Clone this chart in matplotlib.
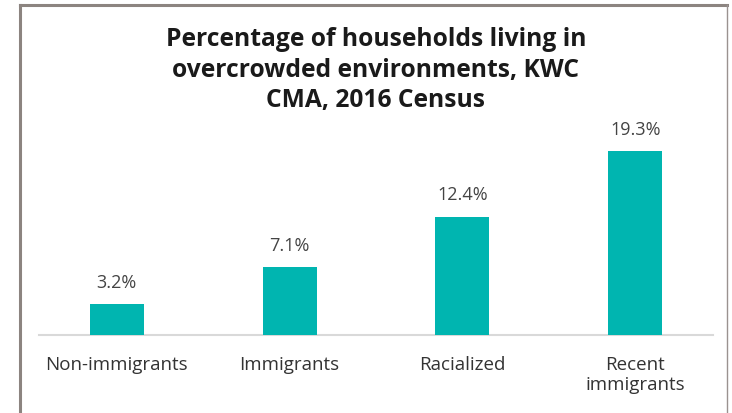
import matplotlib
matplotlib.use("Agg")
import matplotlib.pyplot as plt
from matplotlib.lines import Line2D

categories = ["Non-immigrants", "Immigrants", "Racialized", "Recent\nimmigrants"]
values = [3.2, 7.1, 12.4, 19.3]
value_labels = ["3.2%", "7.1%", "12.4%", "19.3%"]
title = "Percentage of households living in\novercrowded environments, KWC\nCMA, 2016 Census"

plt.rcParams['font.family'] = ['Open Sans', 'DejaVu Sans']

W, H = 732, 414
fig = plt.figure(figsize=(W / 100, H / 100), dpi=100)
fig.patch.set_facecolor('white')

left, right = 39, 713
base = 335.6
ymax = 22
scale = 9.51
top = base - ymax * scale
ax = fig.add_axes([left / W, (H - base) / H, (right - left) / W, (base - top) / H])

x = list(range(len(categories)))
ax.bar(x, values, width=0.3125, color='#00b5b0', zorder=3)
for xi, v, lab in zip(x, values, value_labels):
    ax.text(xi, v + 1.4, lab, ha='center', va='bottom', fontsize=13, color='#444444')

ax.set_xlim(-0.45, 3.45)
ax.set_ylim(0, ymax)
ax.set_xticks(x)
ax.set_xticklabels(categories, fontsize=13.5, color='#333333', linespacing=1.12)
ax.tick_params(axis='x', length=0, pad=15)
ax.set_yticks([])
for s in ['top', 'right', 'left']:
    ax.spines[s].set_visible(False)
ax.spines['bottom'].set_color('#d9d9d9')
ax.spines['bottom'].set_linewidth(1.5)
ax.patch.set_alpha(0)

fig.text(376 / W, 1 - 27 / H, title, ha='center', va='top', fontsize=17.7,
         fontweight='bold', color='#1a1a1a', linespacing=1.3)

# frame
bc = '#8c8480'
fig.add_artist(Line2D([20 / W, 20 / W], [0, 1 - 6 / H], color=bc, lw=2.2, transform=fig.transFigure))
fig.add_artist(Line2D([20 / W, 727 / W], [1 - 6 / H, 1 - 6 / H], color=bc, lw=2.2, transform=fig.transFigure))
fig.add_artist(Line2D([727 / W, 727 / W], [0, 1 - 6 / H], color='#9a9290', lw=1.0, transform=fig.transFigure))

fig.savefig('out.png', dpi=100, facecolor='white')
